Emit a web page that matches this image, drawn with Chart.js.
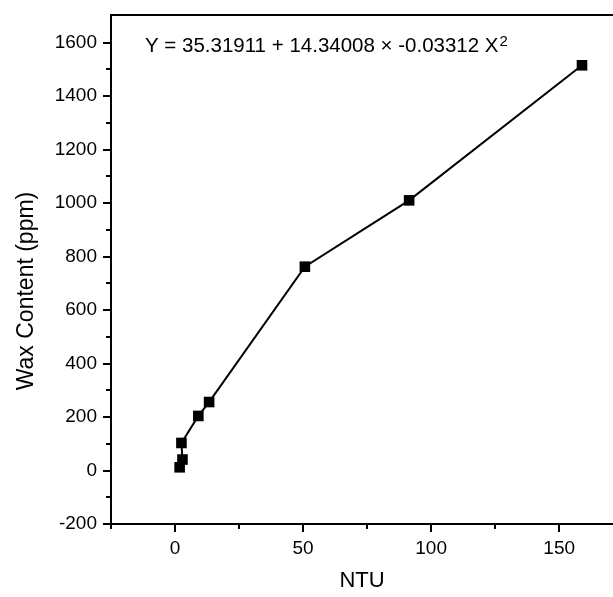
<!DOCTYPE html>
<html>
<head>
<meta charset="utf-8">
<script src="https://cdn.jsdelivr.net/npm/chart.js@4/dist/chart.umd.min.js"></script>
<style>
  html, body { margin: 0; padding: 0; background: #fff; }
</style>
</head>
<body>
<canvas id="chart" width="613" height="597"></canvas>
<script>
// values
const ntu = [1.8, 2.9, 2.5, 9.1, 13.3, 50.7, 91.4, 158.9];
const wax = [12, 41, 103, 204, 256, 762, 1010, 1515];
const xTicks = [0, 50, 100, 150];
const xMinor = [-25, 25, 75, 125];
const yTicks = [-200, 0, 200, 400, 600, 800, 1000, 1200, 1400, 1600];
const yMinor = [-100, 100, 300, 500, 700, 900, 1100, 1300, 1500];
const equation = "Y = 35.31911 + 14.34008 \u00d7 -0.03312 X";
const yTitle = "Wax Content (ppm)";

const FONT = '"Liberation Sans", Arial, sans-serif';

// top frame line, minor ticks, y title and the fit equation
const extras = {
  id: "extras",
  afterDraw(chart) {
    const { ctx, chartArea: { left, top, right, bottom }, scales: { x, y } } = chart;
    ctx.save();
    ctx.strokeStyle = "#000";
    ctx.lineWidth = 2;
    ctx.beginPath();
    ctx.moveTo(left - 1, top);
    ctx.lineTo(right, top);
    for (const v of yMinor) {
      const py = Math.round(y.getPixelForValue(v));
      ctx.moveTo(left - 5, py);
      ctx.lineTo(left, py);
    }
    for (const v of xMinor) {
      const px = Math.round(x.getPixelForValue(v));
      ctx.moveTo(px, bottom);
      ctx.lineTo(px, bottom + 5);
    }
    ctx.stroke();

    ctx.fillStyle = "#000";
    ctx.textBaseline = "alphabetic";
    ctx.font = "20.5px " + FONT;
    ctx.fillText(equation, 145, 52);
    const w = ctx.measureText(equation).width;
    ctx.font = "15px " + FONT;
    ctx.fillText("2", 145 + w + 1, 46);

    // rotated y title, a bit below the axis middle as in the reference
    ctx.translate(27, 291);
    ctx.rotate(-Math.PI / 2);
    ctx.font = "23px " + FONT;
    ctx.textAlign = "center";
    ctx.textBaseline = "middle";
    ctx.fillText(yTitle, 0, 0);
    ctx.restore();
  },
};

const data = {
  datasets: [
    {
      data: ntu.map((v, i) => ({ x: v, y: wax[i] })),
      showLine: true,
      borderColor: "#000",
      borderWidth: 2,
      backgroundColor: "#000",
      pointStyle: "rect",
      pointRadius: 7.5,
      pointBorderWidth: 0,
    },
  ],
};

const options = {
  responsive: false,
  animation: false,
  layout: { autoPadding: false, padding: { top: 15, right: 0, left: 0, bottom: 0 } },
  plugins: { legend: { display: false }, tooltip: { enabled: false } },
  scales: {
    x: {
      type: "linear",
      min: -25,
      max: 171,
      afterBuildTicks: (s) => { s.ticks = xTicks.map((v) => ({ value: v })); },
      afterFit: (s) => { s.height = 73; s.paddingLeft = 0; s.paddingRight = 0; },
      border: { display: true, color: "#000", width: 2 },
      grid: { drawOnChartArea: false, drawTicks: true, tickLength: 8, color: "#000", lineWidth: 2 },
      ticks: { color: "#000", font: { family: FONT, size: 19 }, padding: 5, maxRotation: 0, callback: (v) => String(v) },
      title: { display: true, text: "NTU", color: "#000", font: { family: FONT, size: 22 }, padding: { top: 4, bottom: 3 } },
    },
    y: {
      type: "linear",
      min: -200,
      max: 1703,
      afterBuildTicks: (s) => { s.ticks = yTicks.map((v) => ({ value: v })); },
      afterFit: (s) => { s.width = 111; s.paddingTop = 0; s.paddingBottom = 0; },
      border: { display: true, color: "#000", width: 2 },
      grid: { drawOnChartArea: false, drawTicks: true, tickLength: 8, color: "#000", lineWidth: 2 },
      ticks: { color: "#000", font: { family: FONT, size: 19 }, padding: 6, callback: (v) => String(v) },
      title: { display: false },
    },
  },
};

new Chart(document.getElementById("chart"), { type: "scatter", data: data, options: options, plugins: [extras] });
</script>
</body>
</html>
